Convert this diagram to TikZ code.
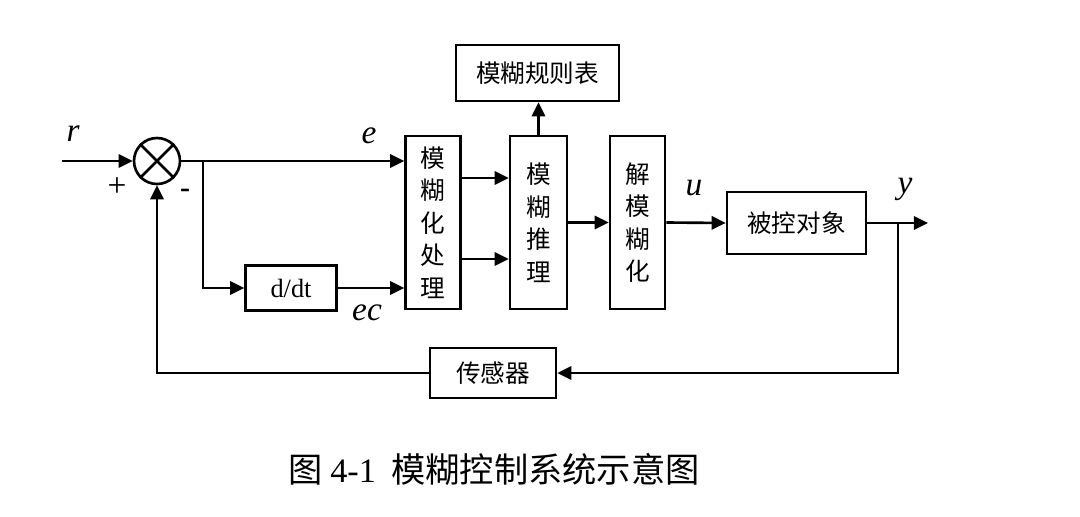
\documentclass[tikz,border=0pt]{standalone}
\usepackage{fontspec}
\setmainfont{Liberation Serif}
\newfontfamily\cjk{Noto Sans CJK SC}
\usetikzlibrary{arrows.meta,positioning}

\begin{document}
\begin{tikzpicture}[
  block/.style={draw,line width=1.5pt,inner sep=0pt,font=\cjk\fontsize{14}{18.5}\selectfont,
                align=center},
  vblock/.style={block,minimum width=1.1cm,minimum height=3.46cm},
  sig/.style={line width=1.5pt,-{Triangle[length=8pt,width=7.5pt]}},
  wire/.style={line width=1.5pt},
  lab/.style={font=\fontsize{19}{22}\selectfont\itshape}]

\useasboundingbox (0,0) rectangle (21.6,10.32);

\node[draw,circle,line width=1.5pt,minimum size=0.92cm,inner sep=0pt] (sum) at (3.14,7.10) {};
\draw[wire] (sum.north west) -- (sum.south east) (sum.north east) -- (sum.south west);

\node[block,minimum width=1.82cm,minimum height=0.9cm,font=\fontsize{15}{18}\selectfont] (dt) at (5.82,4.56) {d/dt};
\node[vblock] (fz)  at (8.66,5.87)  {模\\糊\\化\\处\\理};
\node[vblock,minimum width=1.14cm] (inf) at (10.77,5.87) {模\\糊\\推\\理};
\node[vblock] (dfz) at (12.75,5.87) {解\\模\\糊\\化};
\node[block,minimum width=3.26cm,minimum height=1.12cm] (rules) at (10.75,8.86) {模糊规则表};
\node[block,minimum width=2.78cm,minimum height=1.24cm] (plant) at (15.93,5.86) {被控对象};
\node[block,minimum width=2.52cm,minimum height=1.0cm] (sen) at (9.86,2.86) {传感器};

\coordinate (in)  at (1.24,7.10);
\coordinate (br)  at (4.06,7.10);
\coordinate (yb)  at (17.96,5.86);
\coordinate (out) at (18.56,5.86);

\node[lab] (r)  at (1.46,7.64) {r};
\node[lab] (e)  at (7.38,7.60) {e};
\node[lab] (ec) at (7.34,4.06) {ec};
\node[lab] (u)  at (13.88,6.56) {u};
\node[lab] (y)  at (18.10,6.54) {y};
\node[font=\fontsize{19}{22}\selectfont] (plus)  at (2.34,6.58) {+};
\node[font=\fontsize{17}{20}\selectfont\bfseries] (minus) at (3.70,6.46) {-};

\draw[sig] (in) -- (sum.west);
\draw[sig] (sum.east) -- (sum -| fz.west);
\draw[sig] (br) |- (dt.west);
\draw[sig] (dt.east) -- (dt -| fz.west);
\foreach \yy in {6.76,5.14}
  \draw[sig] (fz.east |- 0,\yy) -- (inf.west |- 0,\yy);
\draw[sig] (inf.north) -- (inf.north |- rules.south);
\draw[sig] (inf.east) -- (dfz.west);
\draw[sig] (dfz.east) -- (plant.west);
\draw[sig] (plant.east) -- (out);
\draw[sig] (yb) |- (sen.east);
\draw[sig] (sen.west) -| (sum.south);

\node[font=\cjk\fontsize{19.5}{22}\selectfont] (cap) at (9.88,0.92)
  {图\ {\rmfamily 4-1}\ \ 模糊控制系统示意图};
\end{tikzpicture}
\end{document}
